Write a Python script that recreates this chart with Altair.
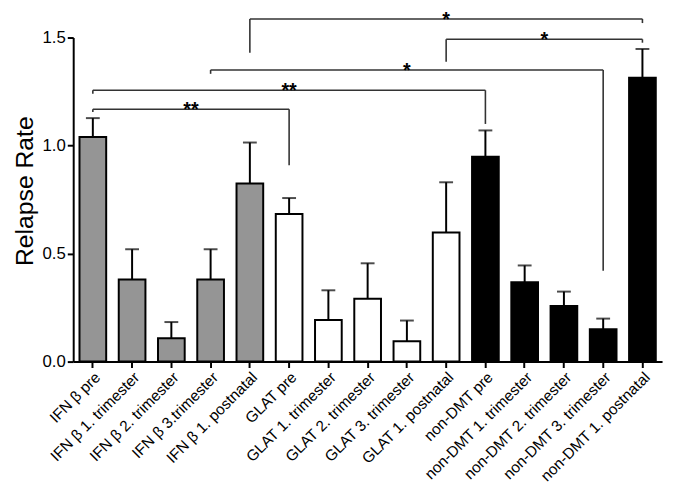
import altair as alt
import pandas as pd

categories = ["IFN β pre", "IFN β 1. trimester", "IFN β 2. trimester", "IFN β 3.trimester",
              "IFN β 1. postnatal", "GLAT pre", "GLAT 1. trimester", "GLAT 2. trimester",
              "GLAT 3. trimester", "GLAT 1. postnatal", "non-DMT pre", "non-DMT 1. trimester",
              "non-DMT 2. trimester", "non-DMT 3. trimester", "non-DMT 1. postnatal"]
means = [1.04, 0.38, 0.108, 0.38, 0.824, 0.683, 0.193, 0.291, 0.094, 0.598,
         0.948, 0.367, 0.257, 0.15, 1.314]
upper = [1.127, 0.52, 0.183, 0.52, 1.014, 0.757, 0.33, 0.455, 0.19, 0.83,
         1.07, 0.445, 0.324, 0.199, 1.447]
groups = ["IFN β"] * 5 + ["GLAT"] * 5 + ["non-DMT"] * 5
group_names = ["IFN β", "GLAT", "non-DMT"]
group_fills = ["#959595", "#ffffff", "#000000"]

br_left = ["IFN β pre", "IFN β pre", "IFN β 3.trimester", "IFN β 1. postnatal", "GLAT 1. postnatal"]
br_right = ["GLAT pre", "non-DMT pre", "non-DMT 3. trimester", "non-DMT 1. postnatal", "non-DMT 1. postnatal"]
br_level = [1.168, 1.256, 1.35, 1.586, 1.492]
br_left_end = [1.155, 1.24, 1.332, 1.43, 1.388]
br_right_end = [0.909, 1.10, 0.42, 1.567, 1.476]
br_label = ["**", "**", "*", "*", "*"]

df = pd.DataFrame({"cat": categories, "mean": means, "upper": upper, "group": groups})
li = [categories.index(c) for c in br_left]
ri = [categories.index(c) for c in br_right]
bdf = pd.DataFrame({
    "li": li, "ri": ri, "mid": [(a + b) / 2 for a, b in zip(li, ri)],
    "level": br_level, "lend": br_left_end, "rend": br_right_end, "label": br_label,
})

FONT = "Liberation Sans"
yscale = alt.Scale(domain=[0, 1.5], nice=False, zero=True)
xband = alt.Scale(paddingInner=0.32, paddingOuter=0.16)
xlin = alt.Scale(domain=[-0.5, len(categories) - 0.5], nice=False, zero=False)

bars = alt.Chart(df).mark_bar(stroke="black", strokeWidth=2).encode(
    x=alt.X("cat:N", sort=categories, scale=xband,
            axis=alt.Axis(title=None, labelAngle=-45, labelAlign="right", labelBaseline="top",
                          labelFontSize=15.5, labelPadding=2, tickSize=6, labelLimit=400)),
    y=alt.Y("mean:Q", scale=yscale,
            axis=alt.Axis(values=[0, 0.5, 1.0, 1.5], format=".1f", title="Relapse Rate",
                          titleFontSize=25, titleFontWeight="normal", titlePadding=5,
                          titleY=155, labelFontSize=17, labelPadding=2, tickSize=6)),
    fill=alt.Fill("group:N", scale=alt.Scale(domain=group_names, range=group_fills), legend=None),
)

err = alt.Chart(df).mark_rule(color="black", strokeWidth=2).encode(
    x=alt.X("cat:N", sort=categories, scale=xband, axis=None),
    y=alt.Y("mean:Q", scale=yscale),
    y2="upper:Q",
)
caps = alt.Chart(df).mark_tick(color="black", thickness=2, size=14, orient="horizontal").encode(
    x=alt.X("cat:N", sort=categories, scale=xband, axis=None),
    y=alt.Y("upper:Q", scale=yscale),
)

bline = dict(color="#333333", strokeWidth=1.6)
hz = alt.Chart(bdf).mark_rule(**bline).encode(
    x=alt.X("li:Q", scale=xlin, axis=None), x2="ri:Q",
    y=alt.Y("level:Q", scale=yscale),
)
vl = alt.Chart(bdf).mark_rule(**bline).encode(
    x=alt.X("li:Q", scale=xlin, axis=None),
    y=alt.Y("level:Q", scale=yscale), y2="lend:Q",
)
vr = alt.Chart(bdf).mark_rule(**bline).encode(
    x=alt.X("ri:Q", scale=xlin, axis=None),
    y=alt.Y("level:Q", scale=yscale), y2="rend:Q",
)
txt = alt.Chart(bdf).mark_text(font=FONT, fontSize=20, fontWeight="bold", baseline="alphabetic",
                               dy=7, color="black").encode(
    x=alt.X("mid:Q", scale=xlin, axis=None),
    y=alt.Y("level:Q", scale=yscale),
    text="label:N",
)

chart = alt.layer(bars, err, caps, hz, vl, vr, txt).resolve_scale(x="independent").properties(
    width=596, height=328,
    autosize=alt.AutoSizeParams(type="none"),
    padding={"left": 66, "top": 27, "right": 5, "bottom": 121},
).configure_view(stroke=None).configure_axis(
    grid=False, domainColor="black", domainWidth=2, tickColor="black", tickWidth=2,
    labelColor="black", titleColor="black", labelFont=FONT, titleFont=FONT,
)

chart.save("out.html", embed_options={"renderer": "svg", "actions": False})
